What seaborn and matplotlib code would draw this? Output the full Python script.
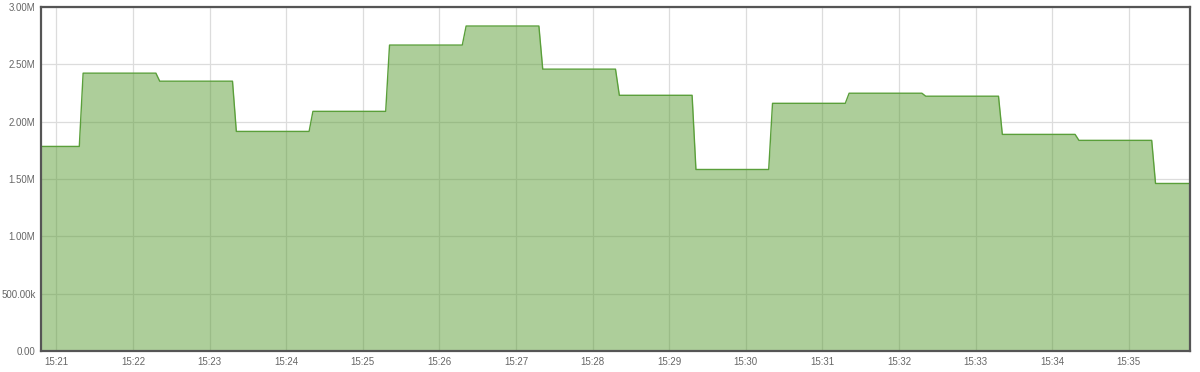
import numpy as np
import pandas as pd
import matplotlib
matplotlib.use("Agg")
import matplotlib.pyplot as plt
import matplotlib.dates as mdates
from matplotlib.ticker import FuncFormatter
import seaborn as sns

# ---- data ----
window_start = "2024-01-01 15:20:48"
window_end = "2024-01-01 15:35:48"
# minute in which each level change happens (change ramps from :18 to :21)
change_minutes = ["15:21", "15:22", "15:23", "15:24", "15:25", "15:26", "15:27",
                  "15:28", "15:29", "15:30", "15:31", "15:32", "15:33", "15:34", "15:35"]
levels = [1.784e6, 2.423e6, 2.353e6, 1.915e6, 2.090e6, 2.668e6, 2.834e6, 2.458e6,
          2.230e6, 1.583e6, 2.160e6, 2.248e6, 2.222e6, 1.889e6, 1.837e6, 1.461e6]
ramp_start_sec = 18
ramp_end_sec = 21
y_ticks = [0, 0.5e6, 1.0e6, 1.5e6, 2.0e6, 2.5e6, 3.0e6]
x_tick_labels = ["15:21", "15:22", "15:23", "15:24", "15:25", "15:26", "15:27", "15:28",
                 "15:29", "15:30", "15:31", "15:32", "15:33", "15:34", "15:35"]

# ---- build series ----
times = [pd.Timestamp(window_start)]
vals = [levels[0]]
for i, m in enumerate(change_minutes):
    t0 = pd.Timestamp(f"2024-01-01 {m}:{ramp_start_sec:02d}")
    t1 = pd.Timestamp(f"2024-01-01 {m}:{ramp_end_sec:02d}")
    times += [t0, t1]
    vals += [levels[i], levels[i + 1]]
times.append(pd.Timestamp(window_end))
vals.append(levels[-1])
df = pd.DataFrame({"time": times, "value": vals})

# ---- plot ----
sns.set_style("white")
plt.rcParams["font.family"] = ["Liberation Sans", "DejaVu Sans"]

fig = plt.figure(figsize=(12, 3.72), dpi=100)
ax = fig.add_axes([41 / 1200, 21 / 372, 1149 / 1200, 344 / 372])

line_c = "#5a9f3a"
ax.fill_between(df["time"], df["value"], 0, color="#5c9e36", alpha=0.5, linewidth=0, zorder=3)
sns.lineplot(data=df, x="time", y="value", ax=ax, color=line_c, linewidth=1.0, zorder=4)

ax.set_xlim(pd.Timestamp(window_start), pd.Timestamp(window_end))
ax.set_ylim(0, 3.0e6)

xt = [pd.Timestamp(f"2024-01-01 {s}:00") for s in x_tick_labels]
ax.set_xticks(xt)
ax.set_xticklabels(x_tick_labels)
ax.set_yticks(y_ticks)

def yfmt(v, pos):
    if v == 0:
        return "0.00"
    if v >= 1e6:
        return f"{v/1e6:.2f}M"
    return f"{v/1e3:.2f}k"
ax.yaxis.set_major_formatter(FuncFormatter(yfmt))

ax.grid(True, color="#dcdcdc", linewidth=0.9, zorder=1)
ax.set_axisbelow(True)
ax.tick_params(axis="both", length=0, labelsize=7, labelcolor="#666666", pad=4)
ax.set_xlabel("")
ax.set_ylabel("")
for sp in ax.spines.values():
    sp.set_visible(True)
    sp.set_color("#555555")
    sp.set_linewidth(1.6)
    sp.set_zorder(6)

fig.savefig("out.png", dpi=100)
